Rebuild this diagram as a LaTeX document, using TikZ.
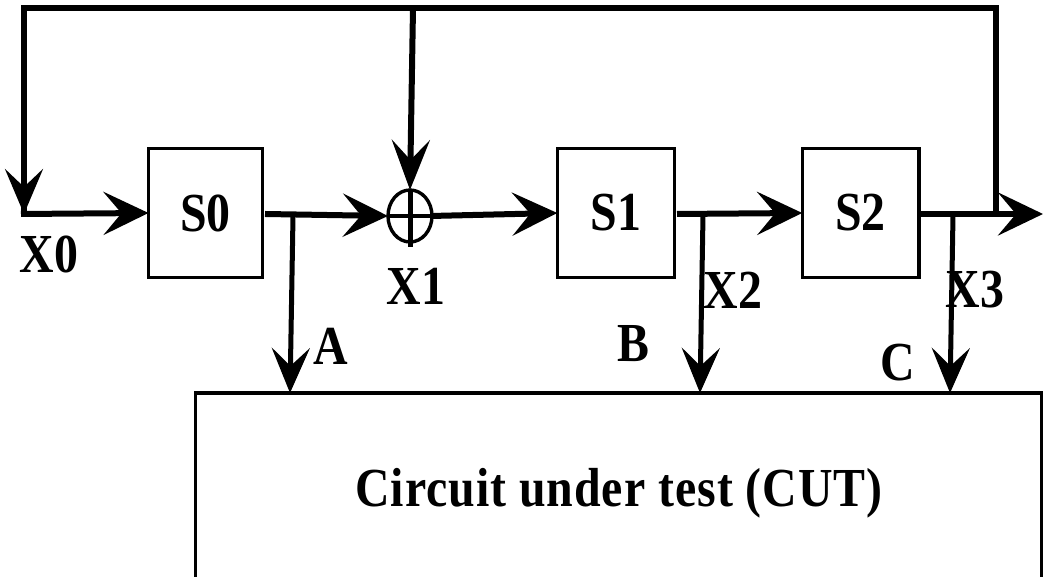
\documentclass[tikz,border=0pt]{standalone}
\usepackage{fontspec}
\setmainfont{Liberation Serif}
\usetikzlibrary{arrows.meta,shapes.geometric}
\tikzset{
  x=1pt,y=1pt,
  flow/.style={line width=6pt,-{Stealth[length=45pt,width=43pt,inset=18pt]}},
  tap/.style={line width=5pt,-{Stealth[length=45pt,width=38pt,inset=18pt]}},
  bus/.style={line width=6pt},
  stage/.style={draw,line width=3.4pt,minimum width=114pt,minimum height=129pt,inner sep=0pt,outer sep=0pt,font=\bfseries\fontsize{55}{60}\selectfont,xscale=.87,transform shape},
  lab/.style={inner sep=0pt,outer sep=0pt,font=\bfseries\fontsize{55}{60}\selectfont,xscale=.87,transform shape},
}
\begin{document}
\begin{tikzpicture}
\useasboundingbox (0,0) rectangle (1043,577);
% CUT box, its lower edge falls outside the picture
\begin{scope}
\clip (0,0) rectangle (1043,577);
\node[draw,line width=3.4pt,minimum width=846pt,minimum height=220pt,inner sep=0pt,outer sep=0pt] (cut) at (618.5,74) {};
\end{scope}
\node[lab] (cutl) at (619,84) {\addfontfeature{LetterSpace=2}Circuit under test (CUT)};
\node[stage,minimum width=131pt] (s0) at (205.5,364) {S0};
\node[stage,minimum width=135pt] (s1) at (616,364) {S1};
\node[stage,minimum width=134pt] (s2) at (860.5,364) {S2};
\node[draw,ellipse,line width=3.4pt,minimum width=44pt,minimum height=52pt,inner sep=0pt,outer sep=0pt] (xor) at (410,361) {};
\coordinate (xb) at (410,330);
\coordinate (start) at (21,363);
\coordinate (corner) at (24,569);
\coordinate (topmid) at (413,569);
\coordinate (topright) at (996,569);
\coordinate (fb) at (996,363);
\coordinate (out) at (1043,363);
\coordinate (o0) at (265,363);
\coordinate (o1) at (677,363);
\coordinate (o2) at (921,363);
\coordinate (ta) at (293,361);
\coordinate (tb) at (703,362);
\coordinate (tc) at (953,362);
\coordinate (ca) at (290,184);
\coordinate (cb) at (700,184);
\coordinate (cc) at (950,184);
\coordinate (xl) at (431,361);
\draw[bus,line cap=rect] (fb) -- (topright) -- (corner) -- (24,366);
\draw[tap] (corner) -- (24,363);
\draw[flow] (start) -- (s0.west);
\draw[flow] (o0) -- (xor.west);
\draw[line width=3.4pt] (xor.west) -- (xor.east);
\draw[line width=5pt] (xor.north) -- (xb);
\draw[line width=6pt,-{Stealth[length=50pt,width=38pt,inset=20pt]}] (topmid) -- (xor.north);
\draw[flow] (xl) -- (s1.west);
\draw[flow] (o1) -- (s2.west);
\draw[flow] (o2) -- (out);
\draw[tap] (ta) -- (ca);
\draw[tap] (tb) -- (cb);
\draw[tap] (tc) -- (cc);
\node[lab] (x0) at (49,323) {X0};
\node[lab] (x1) at (416,291) {X1};
\node[lab] (x2) at (733,287) {X2};
\node[lab] (x3) at (975,287) {X3};
\node[lab] (a) at (331,231) {A};
\node[lab] (b) at (633,233) {B};
\node[lab] (c) at (898,214) {C};
\end{tikzpicture}
\end{document}
